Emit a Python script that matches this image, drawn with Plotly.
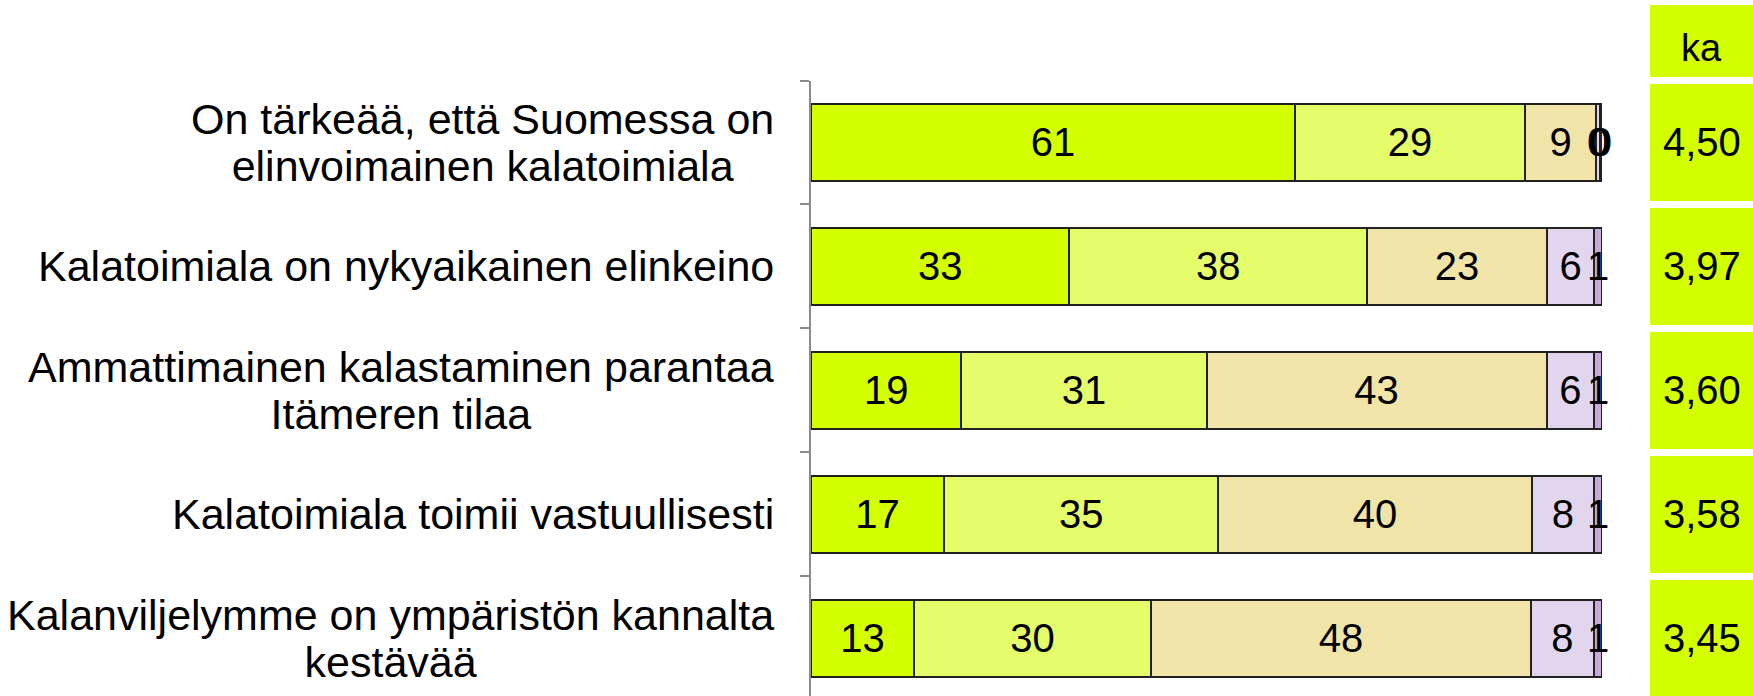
import plotly.graph_objects as go

categories = [
    "On tärkeää, että Suomessa on<br>elinvoimainen kalatoimiala",
    "Kalatoimiala on nykyaikainen elinkeino",
    "Ammattimainen kalastaminen parantaa<br>Itämeren tilaa",
    "Kalatoimiala toimii vastuullisesti",
    "Kalanviljelymme on ympäristön kannalta<br>kestävää",
]
s1 = [61, 33, 19, 17, 13]
s2 = [29, 38, 31, 35, 30]
s3 = [9, 23, 43, 40, 48]
s4 = [0.4, 6, 6, 8, 8]
s5 = [0.3, 1, 1, 1, 1]
series = [s1, s2, s3, s4, s5]
colors = ["#d4ff00", "#e6fd6b", "#f0e4a8", "#e2d5ee", "#c9a9dd"]
ka_header = "ka"
ka_values = [4.50, 3.97, 3.60, 3.58, 3.45]

FONT = "Liberation Sans, Arial, sans-serif"
idx = list(range(len(categories)))

fig = go.Figure()
for vals, col in zip(series, colors):
    fig.add_trace(go.Bar(
        y=idx, x=vals, orientation="h",
        marker=dict(color=col, line=dict(color="#222222", width=2)),
        width=0.62,
        text=[f"{v:.0f}" for v in vals],
        textposition="inside", insidetextanchor="middle",
        constraintext="none",
        textfont=dict(family=FONT, size=40, color="black"),
        cliponaxis=False,
        xaxis="x", yaxis="y", showlegend=False, hoverinfo="skip",
    ))

# mean column cells
fig.add_trace(go.Bar(
    y=idx, x=[1] * len(ka_values), orientation="h",
    marker=dict(color="#d4ff00", line=dict(width=0)),
    width=0.95,
    xaxis="x2", yaxis="y", showlegend=False, hoverinfo="skip",
))

ytop = 1 - 80.5 / 696
fig.update_layout(
    width=1753, height=696,
    margin=dict(l=0, r=0, t=0, b=0),
    paper_bgcolor="white", plot_bgcolor="rgba(0,0,0,0)",
    barmode="stack", barnorm="percent",
    font=dict(family=FONT, size=40, color="black"),
    xaxis=dict(domain=[811 / 1753, 1602 / 1753], range=[0, 100],
               showgrid=False, zeroline=False, showticklabels=False, showline=False),
    xaxis2=dict(domain=[1650 / 1753, 1], range=[0, 100], anchor="y",
                showgrid=False, zeroline=False, showticklabels=False, showline=False),
    yaxis=dict(domain=[0, ytop], range=[4.464, -0.5],
               tickmode="array", tickvals=[i - 0.5 for i in idx] + [len(idx) - 0.5],
               ticktext=[""] * (len(idx) + 1),
               showgrid=False, zeroline=False, showline=True,
               linecolor="#8c8c8c", linewidth=2,
               ticks="outside", ticklen=9, tickwidth=2, tickcolor="#8c8c8c",
               type="linear"),
)

# category labels (centered multi-line, tighter line spacing via base size)
for i, c in enumerate(categories):
    fig.add_annotation(x=0, y=i, xref="x", yref="y",
                       text=f'<span style="font-size:43px">{c}</span>',
                       showarrow=False, xanchor="right", yanchor="middle", align="center",
                       xshift=-35, font=dict(family=FONT, size=36, color="black"))

# mean values
for i, v in enumerate(ka_values):
    fig.add_annotation(x=0.5, y=i, xref="x2 domain", yref="y",
                       text=f"{v:.2f}".replace(".", ","), showarrow=False,
                       xanchor="center", yanchor="middle",
                       font=dict(family=FONT, size=40, color="black"))

# header cell of the mean column
fig.add_shape(type="rect", xref="paper", yref="paper",
              x0=1650 / 1753, x1=1, y0=ytop + 3.5 / 696, y1=1 - 5 / 696,
              fillcolor="#d4ff00", line=dict(width=0), layer="below")
fig.add_annotation(x=(1650 / 1753 + 1) / 2, y=1 - 48 / 696, xref="paper", yref="paper",
                   text=ka_header, showarrow=False, xanchor="center", yanchor="middle",
                   font=dict(family=FONT, size=38, color="black"))

fig.write_html("out.html", config={"displayModeBar": False},
               post_script="document.body.style.margin='0';")
